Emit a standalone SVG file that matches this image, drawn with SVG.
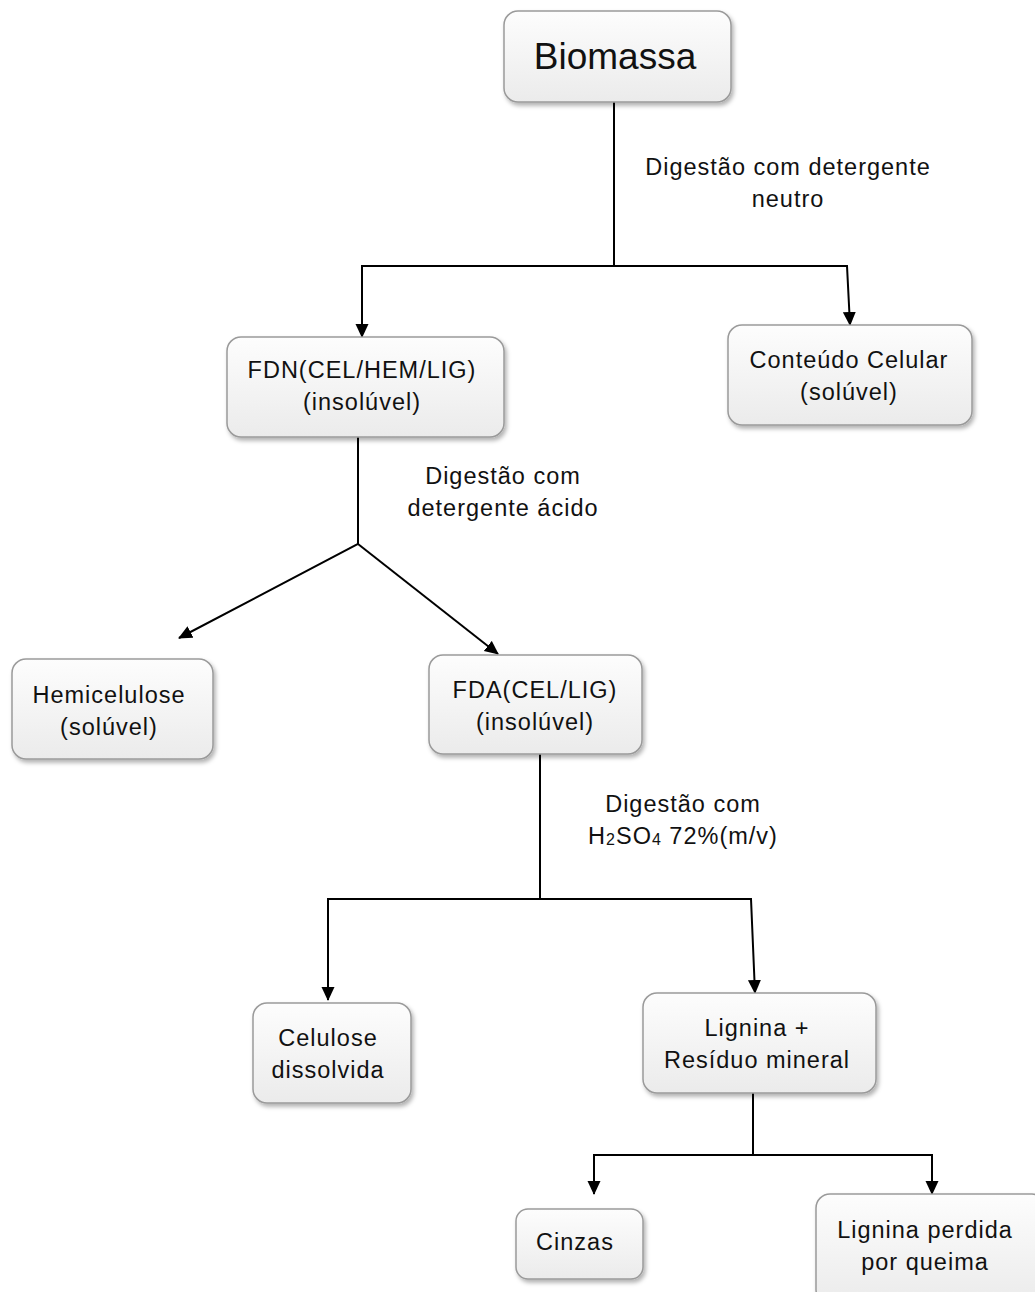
<svg xmlns="http://www.w3.org/2000/svg" width="1035" height="1292" viewBox="0 0 1035 1292">
<defs>
<linearGradient id="g" x1="0" y1="0" x2="0" y2="1">
<stop offset="0" stop-color="#fdfdfd"/>
<stop offset="1" stop-color="#ebebeb"/>
</linearGradient>
<filter id="sh" x="-10%" y="-10%" width="130%" height="130%">
<feDropShadow dx="2" dy="3" stdDeviation="2" flood-color="#000" flood-opacity="0.3"/>
</filter>
<marker id="ah" markerWidth="14" markerHeight="14" viewBox="0 0 14 14" refX="13" refY="7" orient="auto" markerUnits="userSpaceOnUse">
<path d="M0,0.5 L14,7 L0,13.5 Z" fill="#000"/>
</marker>
</defs>
<style>
.box{fill:url(#g);stroke:#9a9a9a;stroke-width:1.5;filter:url(#sh)}
.t{font-family:"Liberation Sans",Arial,sans-serif;font-size:23.5px;letter-spacing:1px;fill:#111;text-anchor:middle}
.c{fill:none;stroke:#000;stroke-width:2}
</style>
<rect width="1035" height="1292" fill="#fff"/>
<g id="connectors">
<path class="c" d="M614,102 V266 H362 V337" marker-end="url(#ah)"/>
<path class="c" d="M614,266 H847 L850,325" marker-end="url(#ah)"/>
<path class="c" d="M358,437 V544 L179,638" marker-end="url(#ah)"/>
<path class="c" d="M358,544 L498,654" marker-end="url(#ah)"/>
<path class="c" d="M540,754 V899 H328 V1000" marker-end="url(#ah)"/>
<path class="c" d="M540,899 H751 L755,993" marker-end="url(#ah)"/>
<path class="c" d="M753,1093 V1155 H594 V1194" marker-end="url(#ah)"/>
<path class="c" d="M753,1155 H932 V1194" marker-end="url(#ah)"/>
</g>
<g id="labels">
<text class="t" x="788" y="175">Digestão com detergente</text>
<text class="t" x="788" y="207">neutro</text>
<text class="t" x="503" y="484">Digestão com</text>
<text class="t" x="503" y="516">detergente ácido</text>
<text class="t" x="683" y="812">Digestão com</text>
<text class="t" x="683" y="844">H<tspan font-size="16" dy="1">2</tspan><tspan dy="-1">SO</tspan><tspan font-size="16" dy="1">4</tspan><tspan dy="-1"> 72%(m/v)</tspan></text>
</g>
<g id="biomassa">
<rect class="box" x="504" y="11" width="227" height="91" rx="14"/>
<text class="t" x="615" y="69" style="font-size:37px;letter-spacing:0">Biomassa</text>
</g>
<g id="fdn">
<rect class="box" x="227" y="337" width="277" height="100" rx="14"/>
<text class="t" x="362" y="378">FDN(CEL/HEM/LIG)</text>
<text class="t" x="362" y="410">(insolúvel)</text>
</g>
<g id="conteudo">
<rect class="box" x="728" y="325" width="244" height="100" rx="14"/>
<text class="t" x="849" y="368">Conteúdo Celular</text>
<text class="t" x="849" y="400">(solúvel)</text>
</g>
<g id="hemicelulose">
<rect class="box" x="12" y="659" width="201" height="100" rx="14"/>
<text class="t" x="109" y="703">Hemicelulose</text>
<text class="t" x="109" y="735">(solúvel)</text>
</g>
<g id="fda">
<rect class="box" x="429" y="655" width="213" height="99" rx="14"/>
<text class="t" x="535" y="698">FDA(CEL/LIG)</text>
<text class="t" x="535" y="730">(insolúvel)</text>
</g>
<g id="celulose">
<rect class="box" x="253" y="1003" width="158" height="100" rx="14"/>
<text class="t" x="328" y="1046">Celulose</text>
<text class="t" x="328" y="1078">dissolvida</text>
</g>
<g id="lignina-residuo">
<rect class="box" x="643" y="993" width="233" height="100" rx="14"/>
<text class="t" x="757" y="1036">Lignina +</text>
<text class="t" x="757" y="1068">Resíduo mineral</text>
</g>
<g id="cinzas">
<rect class="box" x="516" y="1209" width="127" height="70" rx="12"/>
<text class="t" x="575" y="1250">Cinzas</text>
</g>
<g id="lignina-perdida">
<rect class="box" x="816" y="1194" width="230" height="110" rx="14"/>
<text class="t" x="925" y="1238">Lignina perdida</text>
<text class="t" x="925" y="1270">por queima</text>
</g>
</svg>
